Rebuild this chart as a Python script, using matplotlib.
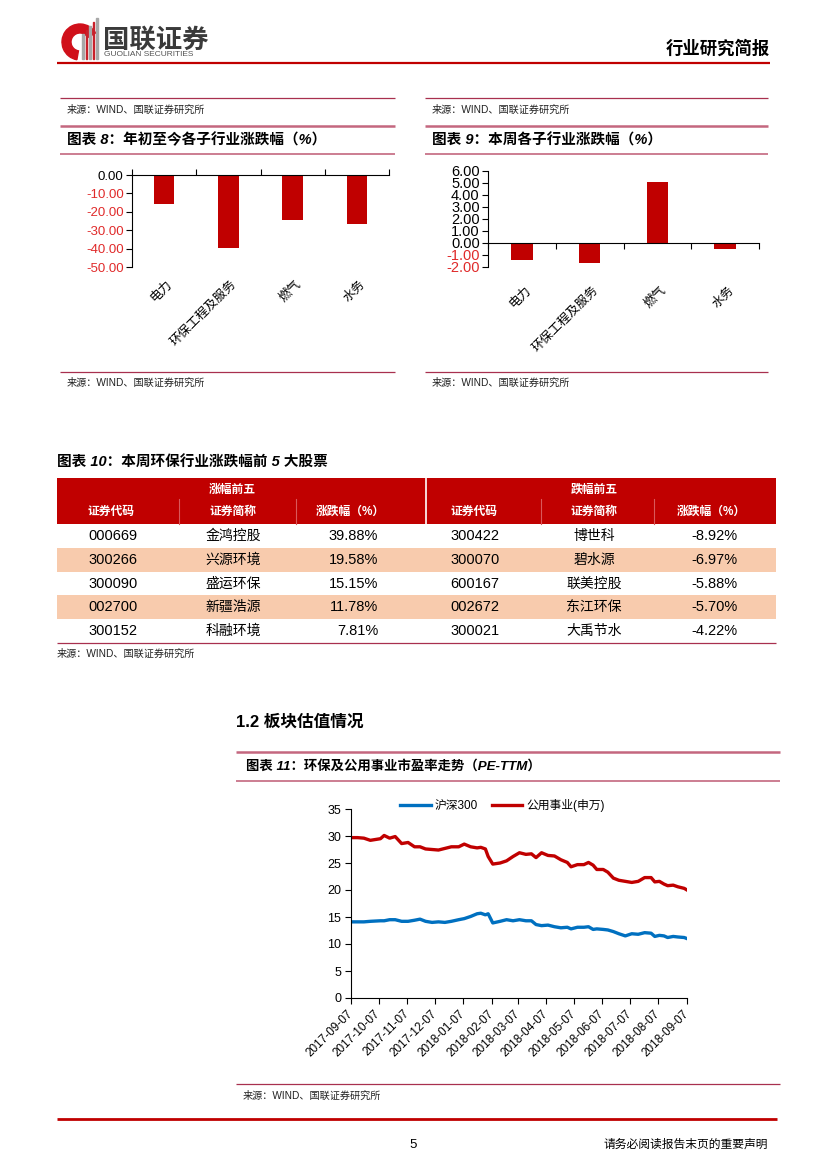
import matplotlib
matplotlib.use('Agg')
import matplotlib.pyplot as plt
import matplotlib.transforms as mtrans
from matplotlib.patches import Rectangle, Wedge
import numpy as np
import pandas as pd

# ---------- Data ----------
sub_industries = ['电力', '环保工程及服务', '燃气', '水务']
ytd_change = [-15.8, -39.5, -24.5, -26.9]
week_change = [-1.40, -1.65, 5.10, -0.50]

top_codes = ['000669', '300266', '300090', '002700', '300152']
top_names = ['金鸿控股', '兴源环境', '盛运环保', '新疆浩源', '科融环境']
top_pct = ['39.88%', '19.58%', '15.15%', '11.78%', '7.81%']
bottom_codes = ['300422', '300070', '600167', '002672', '300021']
bottom_names = ['博世科', '碧水源', '联美控股', '东江环保', '大禹节水']
bottom_pct = ['-8.92%', '-6.97%', '-5.88%', '-5.70%', '-4.22%']
table_heads = ['证券代码', '证券简称', '涨跌幅（%）']

pe_dates = ['2017-09-07', '2017-09-14', '2017-09-21', '2017-09-28', '2017-10-09',
            '2017-10-13', '2017-10-19', '2017-10-25', '2017-11-01', '2017-11-08',
            '2017-11-15', '2017-11-21', '2017-11-27', '2017-12-04', '2017-12-11',
            '2017-12-18', '2017-12-25', '2018-01-02', '2018-01-08', '2018-01-15',
            '2018-01-22', '2018-01-26', '2018-01-31', '2018-02-03', '2018-02-08',
            '2018-02-16', '2018-02-23', '2018-03-02', '2018-03-09', '2018-03-16',
            '2018-03-22', '2018-03-27', '2018-04-02', '2018-04-09', '2018-04-16',
            '2018-04-23', '2018-04-30', '2018-05-04', '2018-05-11', '2018-05-18',
            '2018-05-23', '2018-05-28', '2018-06-01', '2018-06-08', '2018-06-13',
            '2018-06-19', '2018-06-25', '2018-07-02', '2018-07-09', '2018-07-16',
            '2018-07-23', '2018-07-30', '2018-08-03', '2018-08-08', '2018-08-13',
            '2018-08-17', '2018-08-23', '2018-08-28', '2018-09-04', '2018-09-07']
utilities_pe = [29.7, 29.7, 29.6, 29.2, 29.5, 30.1, 29.6, 29.9, 28.6, 28.8,
                28.0, 28.0, 27.6, 27.5, 27.4, 27.7, 28.0, 28.0, 28.5, 28.0,
                27.8, 27.9, 27.6, 26.2, 24.8, 25.0, 25.4, 26.2, 26.9, 26.6,
                26.7, 26.0, 26.9, 26.4, 26.3, 25.6, 25.1, 24.3, 24.7, 24.7,
                25.1, 24.6, 23.8, 23.8, 23.3, 22.2, 21.8, 21.6, 21.4, 21.6,
                22.3, 22.3, 21.5, 21.6, 21.1, 20.8, 20.9, 20.6, 20.3, 20.0]
hs300_pe = [14.1, 14.1, 14.1, 14.2, 14.3, 14.3, 14.5, 14.5, 14.2, 14.2,
            14.4, 14.6, 14.2, 14.0, 14.1, 14.0, 14.2, 14.5, 14.7, 15.1,
            15.6, 15.7, 15.4, 15.6, 13.9, 14.2, 14.5, 14.3, 14.5, 14.3,
            14.3, 13.6, 13.4, 13.5, 13.2, 13.0, 13.1, 12.8, 13.1, 13.1,
            13.2, 12.7, 12.8, 12.7, 12.6, 12.3, 11.9, 11.5, 11.9, 11.8,
            12.1, 12.0, 11.4, 11.6, 11.5, 11.2, 11.4, 11.3, 11.2, 11.0]

# ---------- Style ----------
W, H = 827, 1169
RED = '#c00000'
NEG = '#e02a2a'
BLUE = '#0070c0'
PINK = '#c4677f'
THIN = '#a8304f'
BAND = '#f8cbad'
FONTS = ['Liberation Sans', 'Noto Sans CJK SC', 'DejaVu Sans']
plt.rcParams['font.family'] = FONTS
plt.rcParams['axes.unicode_minus'] = False

fig = plt.figure(figsize=(W / 100, H / 100), dpi=100)
fig.patch.set_facecolor('white')

pg = fig.add_axes([0, 0, 1, 1])
pg.set_xlim(0, W)
pg.set_ylim(H, 0)
pg.axis('off')


def add_ax(left, top, right, bottom):
    return fig.add_axes([left / W, 1 - bottom / H, (right - left) / W, (bottom - top) / H])


def hline(y, x0, x1, color, lw):
    pg.plot([x0, x1], [y, y], color=color, lw=lw, solid_capstyle='butt')


def source(x, y):
    pg.text(x, y, '来源：WIND、国联证券研究所', fontsize=7.3, va='center', color='#222222')


# ---------- Header ----------
pg.add_patch(Wedge((80, 42), 18, 100, 330, width=9, color='#d0101a'))
for i, (sx, top) in enumerate([(82, 34), (85.5, 30), (89, 26), (92.5, 22), (96, 18)]):
    pg.add_patch(Rectangle((sx, top), 1.8, 59 - top, color='#c8202a' if i % 2 else '#a8a8a8'))
pg.text(103, 40, '国联证券', fontsize=19, fontweight='bold', color='#3a3a3a', va='center')
pg.text(104, 55, 'GUOLIAN SECURITIES', fontsize=6, color='#555555', va='center')
pg.text(770, 48, '行业研究简报', fontsize=12.5, fontweight='bold', ha='right', va='center')
hline(63, 57, 770, RED, 1.6)

# ---------- Chart blocks 8 / 9 ----------
for x0, x1, title in [(60, 395, '图表 8：年初至今各子行业涨跌幅（%）'),
                      (425, 768, '图表 9：本周各子行业涨跌幅（%）')]:
    hline(98, x0, x1, THIN, 0.9)
    source(x0 + 7, 110)
    hline(126, x0, x1, PINK, 1.8)
    pg.text(x0 + 7, 140, title, fontsize=10.5, fontweight='bold', style='italic', va='center')
    hline(154, x0, x1, PINK, 1.2)
    hline(372, x0, x1, THIN, 0.9)
    source(x0 + 7, 383)


def bar_panel(rect, values, ylim, ticks, tick_size, label_y, tick_dir):
    ax = add_ax(*rect)
    x = np.arange(len(sub_industries))
    ax.bar(x, values, width=0.32, color=RED, zorder=2)
    ax.set_xlim(-0.5, len(x) - 0.5)
    ax.set_ylim(*ylim)
    ax.set_yticks(ticks)
    ax.set_yticklabels([f'{t:.2f}' for t in ticks], fontsize=tick_size)
    for lab, t in zip(ax.get_yticklabels(), ticks):
        lab.set_color('black' if t >= 0 else NEG)
    ax.spines['top'].set_visible(False)
    ax.spines['right'].set_visible(False)
    ax.spines['bottom'].set_position(('data', 0))
    for s in ['left', 'bottom']:
        ax.spines[s].set_linewidth(0.8)
    ax.set_xticks(np.arange(-0.5, len(x)))
    ax.set_xticklabels([])
    ax.tick_params(axis='x', direction=tick_dir, length=4, width=0.8)
    ax.tick_params(axis='y', direction='out', length=4, width=0.8, pad=2)
    trans = mtrans.blended_transform_factory(ax.transData, ax.transAxes)
    for i, name in enumerate(sub_industries):
        ax.text(i + 0.1, label_y, name, transform=trans, rotation=45, ha='right',
                va='center', rotation_mode='anchor', fontsize=9)
    return ax


bar_panel((132, 175, 389, 267), ytd_change, (-50, 0), list(range(0, -51, -10)),
          9.5, -0.17, 'in')
bar_panel((488, 171, 759, 267), week_change, (-2, 6), list(range(6, -3, -1)),
          10.5, -0.22, 'out')

# ---------- Table (chart 10) ----------
pg.text(57, 463, '图表 10：本周环保行业涨跌幅前 5 大股票', fontsize=10.5, fontweight='bold',
        style='italic', va='center')
tx0, tx1, mid = 57, 776, 426
head_top, head_bot, row_h = 478, 524, 23.8
pg.add_patch(Rectangle((tx0, head_top), tx1 - tx0, head_bot - head_top, color=RED, lw=0))
pg.plot([mid, mid], [head_top, head_bot], color='white', lw=1.2)
for sx in [179, 296, 541, 654]:
    pg.plot([sx, sx], [499, head_bot], color='#d9585a', lw=0.8)
pg.text(232, 490, '涨幅前五', color='white', fontsize=8.5, fontweight='bold', ha='center', va='center')
pg.text(594, 490, '跌幅前五', color='white', fontsize=8.5, fontweight='bold', ha='center', va='center')
for cx, head in zip([111, 233, 350, 474, 594, 711], table_heads * 2):
    pg.text(cx, 512, head, color='white', fontsize=8.5, fontweight='bold', ha='center', va='center')

for r in range(len(top_codes)):
    y0 = head_bot + r * row_h
    yc = y0 + row_h / 2
    if r % 2 == 1:
        pg.add_patch(Rectangle((tx0, y0), tx1 - tx0, row_h, color=BAND, lw=0))
    pg.text(88, yc, top_codes[r], fontsize=10.5, va='center')
    pg.text(233, yc, top_names[r], fontsize=10, ha='center', va='center')
    pg.text(378, yc, top_pct[r], fontsize=10.5, ha='right', va='center')
    pg.text(450, yc, bottom_codes[r], fontsize=10.5, va='center')
    pg.text(594, yc, bottom_names[r], fontsize=10, ha='center', va='center')
    pg.text(738, yc, bottom_pct[r], fontsize=10.5, ha='right', va='center')
hline(head_bot + 5 * row_h, tx0, tx1, THIN, 0.9)
source(57, 654)

# ---------- Section 1.2 / chart 11 ----------
pg.text(236, 722, '1.2 板块估值情况', fontsize=12, fontweight='bold', va='center')
hline(752, 236, 780, PINK, 1.8)
pg.text(246, 766, '图表 11：环保及公用事业市盈率走势（PE-TTM）', fontsize=9.6,
        fontweight='bold', style='italic', va='center')
hline(781, 236, 780, PINK, 1.2)

ax3 = add_ax(351, 809, 687, 998)
d = pd.to_datetime(pe_dates)
ax3.plot(d, hs300_pe, color=BLUE, lw=2.4, label='沪深300')
ax3.plot(d, utilities_pe, color=RED, lw=2.4, label='公用事业(申万)')
ax3.set_ylim(0, 35)
ax3.set_yticks(range(0, 36, 5))
ax3.tick_params(axis='y', labelsize=9, direction='out', length=4, width=0.8, pad=3)
months = pd.date_range('2017-09-07', '2018-09-07', freq=pd.DateOffset(months=1))
ax3.set_xlim(months[0], months[-1])
ax3.set_xticks(months)
ax3.set_xticklabels([m.strftime('%Y-%m-%d') for m in months], rotation=45, ha='right',
                    va='center', rotation_mode='anchor', fontsize=8.5)
ax3.tick_params(axis='x', direction='out', length=4, width=0.8, pad=6)
ax3.spines['top'].set_visible(False)
ax3.spines['right'].set_visible(False)
for s in ['left', 'bottom']:
    ax3.spines[s].set_linewidth(0.8)
ax3.legend(loc='center', bbox_to_anchor=(0.45, 1.02), ncol=2, frameon=False,
           fontsize=8.5, handlelength=2.6, columnspacing=1.2, handletextpad=0.3)

hline(1084, 236, 780, THIN, 0.9)
source(243, 1096)

# ---------- Footer ----------
hline(1119, 57, 777, RED, 2.0)
pg.text(413, 1145, '5', fontsize=9.5, ha='center', va='center')
pg.text(768, 1145, '请务必阅读报告末页的重要声明', fontsize=8.5, ha='right', va='center')

fig.savefig('out.png', dpi=100)
